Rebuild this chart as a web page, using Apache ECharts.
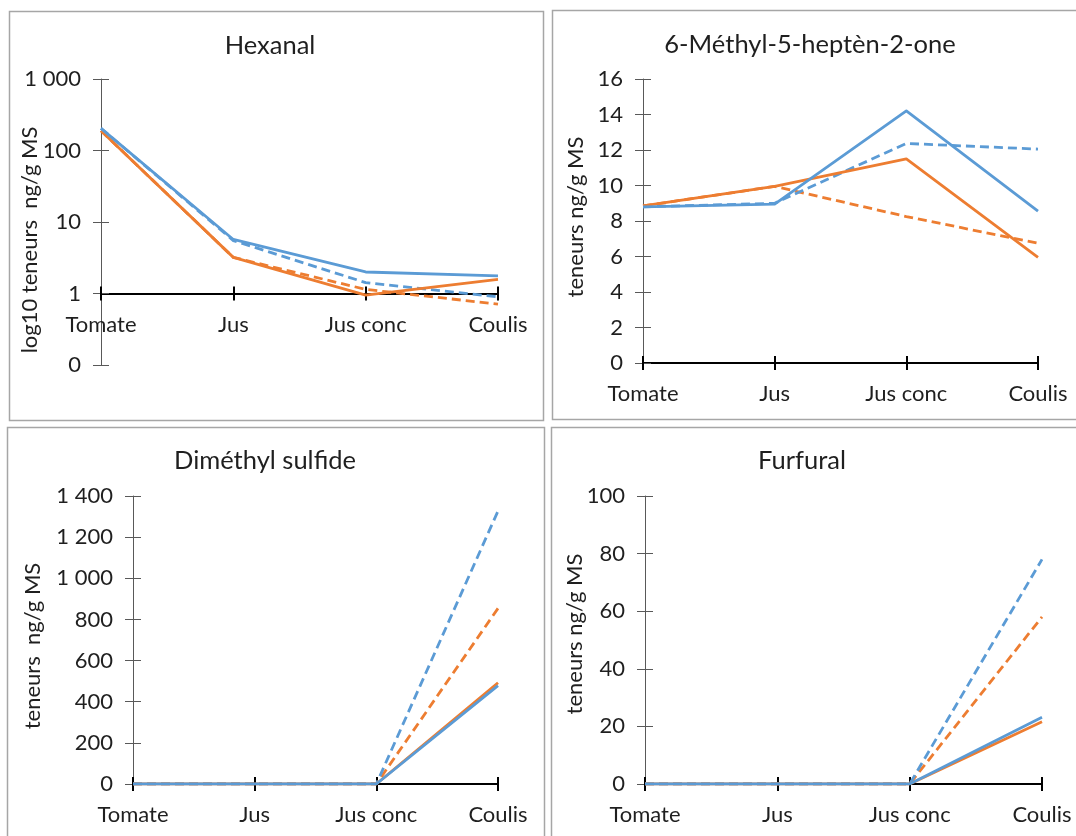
<!DOCTYPE html>
<html>
<head>
<meta charset="utf-8">
<script src="https://cdn.jsdelivr.net/npm/echarts@6/dist/echarts.min.js"></script>
<style>
html,body{margin:0;padding:0;background:#fff;}
#c{width:1076px;height:836px;}
</style>
</head>
<body>
<div id="c"></div>
<script>
// ---- data ----
const categories = ['Tomate', 'Jus', 'Jus conc', 'Coulis'];

const panelTitles = ['Hexanal', '6-Méthyl-5-heptèn-2-one', 'Diméthyl sulfide', 'Furfural'];
const yAxisNames = ['log10 teneurs  ng/g MS', 'teneurs ng/g MS', 'teneurs  ng/g MS', 'teneurs ng/g MS'];

// Hexanal (log scale)
const hexBlueSolid    = [204, 5.7, 2.0, 1.76];
const hexOrangeSolid  = [189, 3.2, 0.95, 1.58];
const hexBlueDashed   = [204, 5.5, 1.42, 0.90];
const hexOrangeDashed = [189, 3.2, 1.14, 0.71];

// 6-Méthyl-5-heptèn-2-one
const mhBlueSolid    = [8.8, 8.95, 14.2, 8.55];
const mhOrangeSolid  = [8.85, 9.95, 11.5, 5.95];
const mhBlueDashed   = [8.8, 9.0, 12.37, 12.05];
const mhOrangeDashed = [8.85, 9.95, 8.25, 6.75];

// Diméthyl sulfide
const dmsBlueSolid    = [0, 0, 0, 478];
const dmsOrangeSolid  = [0, 0, 0, 492];
const dmsBlueDashed   = [0, 0, 0, 1327];
const dmsOrangeDashed = [0, 0, 0, 854];

// Furfural
const furBlueSolid    = [0, 0, 0, 23.2];
const furOrangeSolid  = [0, 0, 0, 21.6];
const furBlueDashed   = [0, 0, 0, 78];
const furOrangeDashed = [0, 0, 0, 58];

// ---- styling / layout ----
const BLUE = '#5B9BD5', ORANGE = '#ED7D31';
const FONT = 'Lato';
const TXT = '#1f1f1f';

const grids = [
  {left: 101, top: 79, width: 397, height: 286},
  {left: 643, top: 79, width: 395, height: 284},
  {left: 133, top: 496, width: 365, height: 288},
  {left: 645, top: 496, width: 397, height: 288}
];
const yCfg = [
  {type: 'log', min: 0.1, max: 1000, logBase: 10},
  {type: 'value', min: 0, max: 16, interval: 2},
  {type: 'value', min: 0, max: 1400, interval: 200},
  {type: 'value', min: 0, max: 100, interval: 20}
];
const seriesData = [
  [hexOrangeDashed, hexBlueDashed, hexOrangeSolid, hexBlueSolid],
  [mhOrangeDashed, mhBlueDashed, mhOrangeSolid, mhBlueSolid],
  [dmsOrangeDashed, dmsBlueDashed, dmsOrangeSolid, dmsBlueSolid],
  [furOrangeDashed, furBlueDashed, furOrangeSolid, furBlueSolid]
];
const seriesStyles = [
  {color: ORANGE, type: [9, 5]},
  {color: BLUE, type: [9, 5]},
  {color: ORANGE, type: 'solid'},
  {color: BLUE, type: 'solid'}
];

function fmt(v) {
  const r = Math.round(v);
  return String(r).replace(/\B(?=(\d{3})+(?!\d))/g, ' ');
}

const xAxes = [], yAxes = [], series = [];
grids.forEach((g, i) => {
  const off = i === 0 ? -g.height / 4 : 0;
  // main x axis (outward ticks + labels)
  xAxes.push({
    gridIndex: i, type: 'category', position: 'bottom', data: categories, boundaryGap: false, offset: off,
    axisLine: {onZero: false, lineStyle: {color: '#000', width: 2.2}},
    axisTick: {show: true, length: 7, lineStyle: {color: '#000', width: 2}},
    axisLabel: {color: TXT, fontFamily: FONT, fontSize: 22, margin: 20},
    splitLine: {show: false}
  });
  // inward ticks (cross tick marks)
  xAxes.push({
    gridIndex: i, type: 'category', position: 'bottom', data: categories, boundaryGap: false, offset: off,
    axisLine: {show: false, onZero: false},
    axisTick: {show: true, inside: true, length: 7, lineStyle: {color: '#000', width: 2}},
    axisLabel: {show: false}, splitLine: {show: false}
  });
  yAxes.push(Object.assign({
    gridIndex: i, position: 'left',
    axisLine: {show: true, onZero: false, lineStyle: {color: '#595959', width: 1}},
    axisTick: {show: true, length: 8, lineStyle: {color: '#595959', width: 1}},
    axisLabel: {color: TXT, fontFamily: FONT, fontSize: 22, margin: 20, formatter: fmt},
    splitLine: {show: false}
  }, yCfg[i]));
  yAxes.push(Object.assign({
    gridIndex: i, position: 'left',
    axisLine: {show: false, onZero: false},
    axisTick: {show: true, inside: true, length: 8, lineStyle: {color: '#595959', width: 1}},
    axisLabel: {show: false}, splitLine: {show: false}
  }, yCfg[i]));
  seriesData[i].forEach((d, k) => {
    series.push({
      type: 'line', xAxisIndex: i * 2, yAxisIndex: i * 2, data: d,
      symbol: 'none', silent: true, animation: false,
      lineStyle: {color: seriesStyles[k].color, width: 2.8, type: seriesStyles[k].type, cap: 'butt', join: 'round'},
      z: 3 + k
    });
  });
});

const borders = [
  [9.5, 11.5, 534, 409],
  [552.5, 10.5, 530, 409],
  [7.5, 427.5, 537, 420],
  [551.5, 427.5, 530, 420]
];
const titlePos = [[270, 46], [810, 45], [265, 461], [802, 461]];
const yNamePos = [[30, 240], [576, 217], [33, 646], [575, 634]];

const graphic = [];
borders.forEach(b => graphic.push({
  type: 'rect', silent: true, z: -10,
  shape: {x: b[0], y: b[1], width: b[2], height: b[3]},
  style: {fill: 'none', stroke: '#a6a6a6', lineWidth: 1.5}
}));
panelTitles.forEach((t, i) => graphic.push({
  type: 'text', silent: true, x: titlePos[i][0], y: titlePos[i][1],
  style: {text: t, fill: TXT, font: '25.5px ' + FONT, textAlign: 'center', textVerticalAlign: 'middle'}
}));
yAxisNames.forEach((t, i) => graphic.push({
  type: 'text', silent: true, x: yNamePos[i][0], y: yNamePos[i][1], rotation: Math.PI / 2,
  style: {text: t, fill: TXT, font: '22px ' + FONT, textAlign: 'center', textVerticalAlign: 'middle'}
}));

const chart = echarts.init(document.getElementById('c'), null, {renderer: 'canvas'});
chart.setOption({
  animation: false,
  backgroundColor: '#fff',
  grid: grids.map(g => Object.assign({containLabel: false}, g)),
  xAxis: xAxes,
  yAxis: yAxes,
  series: series,
  graphic: graphic
});
</script>
</body>
</html>
